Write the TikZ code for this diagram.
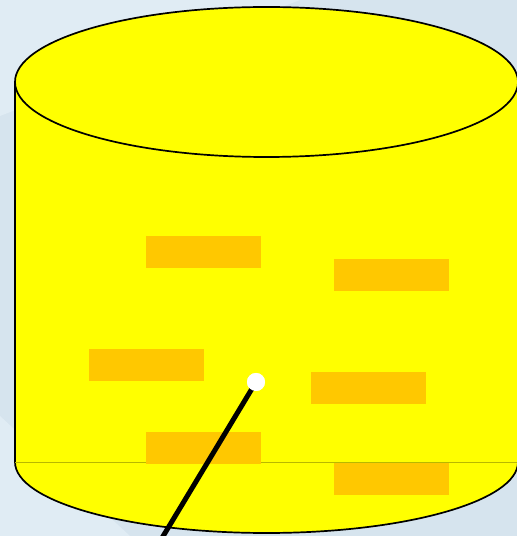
\documentclass[tikz,border=0pt]{standalone}
\definecolor{bgblue}{HTML}{D6E4EE}
\definecolor{bglight}{HTML}{E0ECF4}
\definecolor{cylyellow}{HTML}{FFFF00}
\definecolor{brick}{HTML}{FFC800}
\definecolor{seam}{HTML}{B8B800}
\begin{document}
\begin{tikzpicture}[x=1pt,y=1pt,
  brickbox/.style={fill=brick, draw=none, minimum width=115pt, minimum height=32pt, inner sep=0pt, anchor=north west},
  outline/.style={draw=black, line width=1.7pt}]
\useasboundingbox (0,0) rectangle (517,536);
\clip (0,0) rectangle (517,536);
% background
\fill[bgblue] (0,0) rectangle (517,536);
\fill[bglight] (0,536) -- (300,536) -- (0,420) -- cycle;
\fill[bglight] (0,120) -- (130,0) -- (0,0) -- cycle;
% cylinder body
\path[fill=cylyellow] (15,454) -- (15,74) arc[start angle=180, end angle=360, x radius=251.5, y radius=71] -- (518,454) -- cycle;
\draw[outline] (15,454) -- (15,74) arc[start angle=180, end angle=360, x radius=251.5, y radius=71];
\draw[seam, line width=0.8pt] (15,74) -- (518,74);
% top ellipse
\draw[outline, fill=cylyellow] (266.5,454) ellipse[x radius=251.5, y radius=75];
% bricks
\node[brickbox] (b1) at (146,300) {};
\node[brickbox] (b2) at (334,277) {};
\node[brickbox] (b3) at (89,187) {};
\node[brickbox] (b4) at (311,164) {};
\node[brickbox] (b5) at (146,104) {};
\node[brickbox] (b6) at (334,73) {};
% probe
\coordinate (tip) at (162,-2);
\node[circle, fill=white, minimum size=18pt, inner sep=0pt] (dot) at (256,154) {};
\draw[black, line width=5pt] (dot.center) -- (tip);
\node[circle, fill=white, minimum size=18pt, inner sep=0pt] at (dot) {};
\end{tikzpicture}
\end{document}
